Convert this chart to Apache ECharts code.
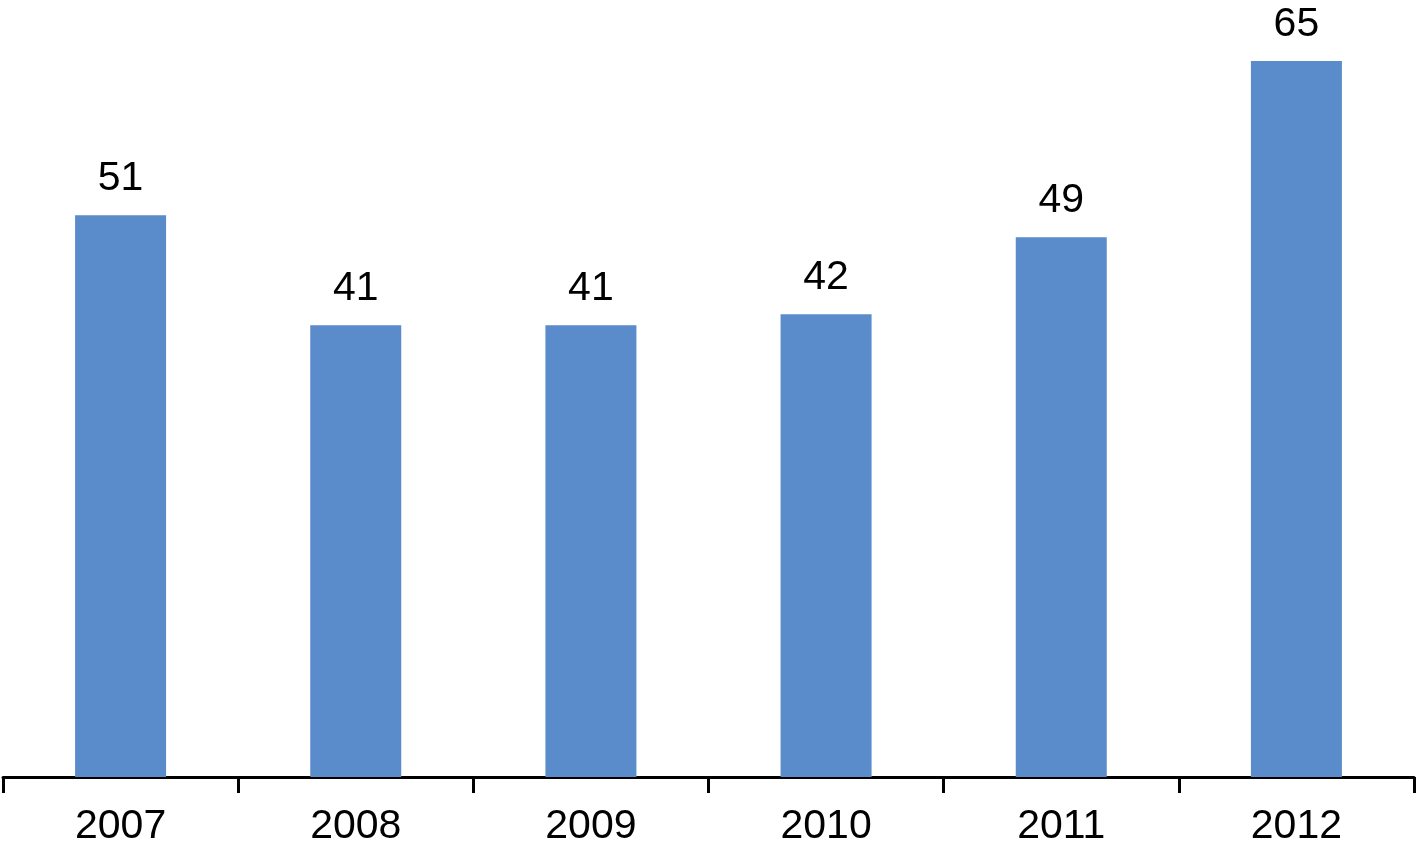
<!DOCTYPE html>
<html>
<head>
<meta charset="utf-8">
<script src="https://cdn.jsdelivr.net/npm/echarts@6/dist/echarts.min.js"></script>
<style>
  html, body { margin: 0; padding: 0; background: #fff; }
  #chart { width: 1416px; height: 847px; }
</style>
</head>
<body>
<div id="chart"></div>
<script>
// 年份与数值
var years = ["2007", "2008", "2009", "2010", "2011", "2012"];
var values = [51, 41, 41, 42, 49, 65];

var myChart = echarts.init(document.getElementById("chart"));

var option = {
  animation: false,
  grid: {
    left: 3,
    right: 2,
    top: 61,
    bottom: 69
  },
  xAxis: {
    type: "category",
    data: years,
    axisLine: { lineStyle: { color: "#000", width: 3 } },
    axisTick: { show: true, alignWithLabel: false, length: 16, lineStyle: { color: "#000", width: 3 } },
    axisLabel: {
      color: "#000",
      fontSize: 41,
      fontFamily: "Liberation Sans, Arial, sans-serif",
      margin: 29
    }
  },
  yAxis: {
    type: "value",
    min: 0,
    max: 65,
    show: false,
    splitLine: { show: false }
  },
  series: [
    {
      type: "bar",
      data: values,
      barWidth: 91,
      itemStyle: { color: "#5A8BCA" },
      label: {
        show: true,
        position: "top",
        distance: 16,
        color: "#000",
        fontSize: 41,
        fontFamily: "Liberation Sans, Arial, sans-serif"
      }
    }
  ]
};

myChart.setOption(option);
</script>
</body>
</html>
